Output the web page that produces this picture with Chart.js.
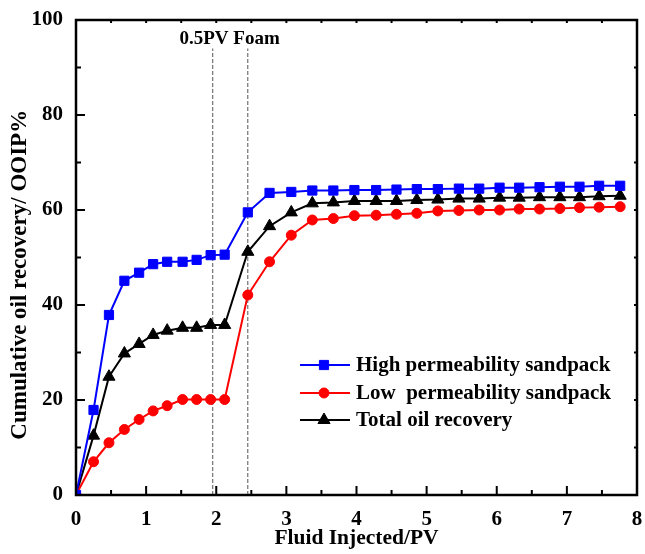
<!DOCTYPE html>
<html lang="en">
<head>
  <meta charset="UTF-8">
  <title>Cumulative oil recovery vs Fluid Injected</title>
  <script src="https://cdn.jsdelivr.net/npm/chart.js"></script>
  <style>
    html, body { margin: 0; padding: 0; background: #fff; }
  </style>
</head>
<body>
<canvas id="myChart" width="645" height="554"></canvas>

<script>
  // values
  const pv = [0, 0.25, 0.47, 0.69, 0.9, 1.1, 1.3, 1.52, 1.72, 1.92, 2.12, 2.45, 2.76, 3.07, 3.37, 3.67, 3.97, 4.28, 4.57, 4.86, 5.16, 5.46, 5.75, 6.04, 6.32, 6.61, 6.9, 7.18, 7.46, 7.76];
  const highPerm = [0, 17.9, 37.9, 45.1, 46.8, 48.6, 49.1, 49.1, 49.5, 50.5, 50.6, 59.5, 63.6, 63.8, 64.1, 64.1, 64.2, 64.2, 64.3, 64.4, 64.4, 64.5, 64.5, 64.7, 64.7, 64.8, 64.9, 64.9, 65.1, 65.1];
  const lowPerm = [0, 7.0, 11.0, 13.8, 15.9, 17.7, 18.8, 20.1, 20.1, 20.1, 20.1, 42.1, 49.1, 54.7, 57.9, 58.2, 58.8, 58.9, 59.1, 59.3, 59.8, 59.9, 60.0, 60.0, 60.2, 60.2, 60.3, 60.5, 60.6, 60.7];
  const totalOil = [0, 12.5, 24.9, 29.8, 31.8, 33.7, 34.6, 35.2, 35.2, 35.8, 35.8, 51.2, 56.6, 59.5, 61.4, 61.6, 61.9, 61.9, 61.9, 62.1, 62.2, 62.4, 62.4, 62.6, 62.6, 62.7, 62.7, 62.7, 62.9, 63.0];
  const seriesNames = ['High permeability sandpack', 'Low  permeability sandpack', 'Total oil recovery'];
  const foamBounds = [1.95, 2.45];   // PV where foam injection starts / ends
  const foamTop = 94;
  const foamLabel = '0.5PV Foam';

  const FONT = "'Liberation Serif', 'Times New Roman', serif";
  Chart.defaults.font.family = FONT;
  Chart.defaults.font.weight = 'bold';
  Chart.defaults.color = '#000';

  const toXY = arr => pv.map((x, i) => ({ x: x, y: arr[i] }));

  const series = [
    { label: seriesNames[0], data: toXY(highPerm), color: '#0000ff', pointStyle: 'rect', pointRadius: 6.5 },
    { label: seriesNames[1], data: toXY(lowPerm), color: '#ff0000', pointStyle: 'circle', pointRadius: 5 },
    { label: seriesNames[2], data: toXY(totalOil), color: '#000000', pointStyle: 'triangle', pointRadius: 7 }
  ];

  const datasets = series.map(s => ({
    label: s.label,
    data: s.data,
    borderColor: s.color,
    backgroundColor: s.color,
    pointBackgroundColor: s.color,
    pointBorderColor: s.color,
    pointStyle: s.pointStyle,
    pointRadius: s.pointRadius,
    pointBorderWidth: 1,
    borderWidth: 2,
    tension: 0
  }));

  foamBounds.forEach(v => {
    datasets.push({
      label: '',
      data: [{ x: v, y: 0 }, { x: v, y: foamTop }],
      borderColor: '#555',
      borderWidth: 1,
      borderDash: [4, 2],
      pointRadius: 0
    });
  });

  function drawMarker(ctx, s, x, y) {
    ctx.fillStyle = s.color;
    ctx.strokeStyle = s.color;
    ctx.lineWidth = 1;
    if (Chart.helpers && Chart.helpers.drawPoint) {
      Chart.helpers.drawPoint(ctx, { pointStyle: s.pointStyle, radius: s.pointRadius, rotation: 0, borderWidth: 1 }, x, y);
    } else {
      ctx.beginPath();
      ctx.arc(x, y, s.pointRadius, 0, Math.PI * 2);
      ctx.fill();
    }
  }

  // box frame, inward ticks, foam label and legend
  const framePlugin = {
    id: 'framePlugin',
    afterDatasetsDraw(chart) {
      const { ctx, chartArea: a, scales: { x, y } } = chart;
      ctx.save();
      ctx.strokeStyle = '#000';
      ctx.lineWidth = 2;
      ctx.beginPath();
      for (let v = 0; v <= 8; v += 0.5) {
        const px = x.getPixelForValue(v);
        const len = v % 1 === 0 ? 9 : 5;
        ctx.moveTo(px, a.bottom); ctx.lineTo(px, a.bottom - len);
        ctx.moveTo(px, a.top); ctx.lineTo(px, a.top + 3);
      }
      for (let v = 0; v <= 100; v += 10) {
        const py = y.getPixelForValue(v);
        const len = v % 20 === 0 ? 9 : 5;
        ctx.moveTo(a.left, py); ctx.lineTo(a.left + len, py);
        ctx.moveTo(a.right, py); ctx.lineTo(a.right - 3, py);
      }
      ctx.stroke();
      ctx.lineWidth = 2.5;
      ctx.strokeRect(a.left, a.top, a.right - a.left, a.bottom - a.top);

      ctx.fillStyle = '#000';
      ctx.font = 'bold 19px ' + FONT;
      ctx.textAlign = 'center';
      ctx.textBaseline = 'middle';
      ctx.fillText(foamLabel, x.getPixelForValue(2.19), y.getPixelForValue(96));

      // legend
      const rows = [365, 393, 420];
      ctx.font = 'bold 21px ' + FONT;
      ctx.textAlign = 'left';
      series.forEach((s, i) => {
        const ry = rows[i];
        ctx.strokeStyle = s.color;
        ctx.lineWidth = 2;
        ctx.beginPath();
        ctx.moveTo(300, ry); ctx.lineTo(350, ry);
        ctx.stroke();
        drawMarker(ctx, s, 324, ry);
        ctx.fillStyle = '#000';
        ctx.fillText(s.label, 356, ry + 1);
      });
      ctx.restore();
    }
  };

  const ctx = document.getElementById('myChart').getContext('2d');
  const myChart = new Chart(ctx, {
    type: 'line',
    data: { datasets: datasets },
    options: {
      responsive: false,
      animation: false,
      layout: { padding: { top: 20, right: 5, left: 0, bottom: 0 } },
      plugins: {
        legend: { display: false },
        tooltip: { enabled: false }
      },
      scales: {
        x: {
          type: 'linear',
          min: 0,
          max: 8,
          grid: { display: false, drawTicks: false },
          border: { display: false },
          ticks: { stepSize: 1, padding: 12, font: { size: 21, weight: 'bold' } },
          title: { display: true, text: 'Fluid Injected/PV', font: { size: 21.5, weight: 'bold' }, padding: { top: 0, bottom: 3 } },
          afterFit: s => { s.height = 59; s.paddingLeft = 0; s.paddingRight = 0; }
        },
        y: {
          min: 0,
          max: 100,
          grid: { display: false, drawTicks: false },
          border: { display: false },
          ticks: { stepSize: 20, padding: 13, font: { size: 21, weight: 'bold' } },
          title: { display: true, text: 'Cumulative oil recovery/ OOIP%      ', font: { size: 23, weight: 'bold' }, padding: { top: 6, bottom: 0 } },
          afterFit: s => { s.width = 76; s.paddingTop = 0; s.paddingBottom = 0; }
        }
      }
    },
    plugins: [framePlugin]
  });
</script>
</body>
</html>
